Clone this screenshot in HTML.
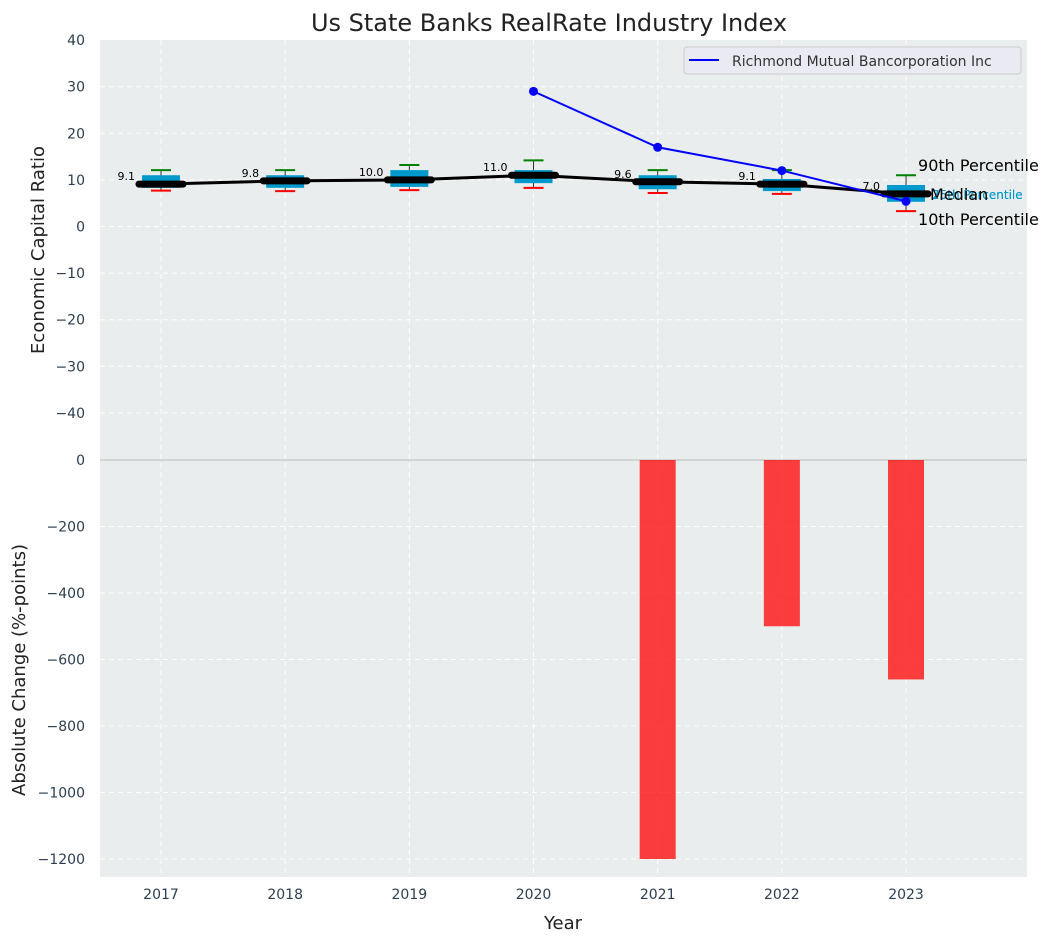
<!DOCTYPE html>
<html><head><meta charset="utf-8"><style>
body{margin:0;background:#fff;font-family:"DejaVu Sans","Liberation Sans",sans-serif;}
svg text{font-family:"DejaVu Sans","Liberation Sans",sans-serif;}
</style></head><body>
<svg id="c" width="1053" height="942" xmlns="http://www.w3.org/2000/svg">
<text x="549" y="31" font-size="24" text-anchor="middle" fill="#222">Us State Banks RealRate Industry Index</text>
<rect x="100" y="40" width="927" height="420" fill="#eaeded"/>
<rect x="100" y="460" width="927" height="417" fill="#eaeded"/>
<g id="grid"></g><g id="marks"></g><g id="labels"></g>
<text transform="translate(44,250) rotate(-90)" font-size="18" text-anchor="middle" fill="#222">Economic Capital Ratio</text>
<text transform="translate(25,670) rotate(-90)" font-size="18" text-anchor="middle" fill="#222">Absolute Change (%-points)</text>
<text x="563" y="929" font-size="18" text-anchor="middle" fill="#222">Year</text>
<g>
<rect x="684" y="47" width="337" height="27" rx="3" fill="#eaeaf2" stroke="#ccc"/>
<line x1="689" y1="60" x2="719" y2="60" stroke="#0000ff" stroke-width="2"/>
<text x="732" y="66" font-size="14" fill="#333">Richmond Mutual Bancorporation Inc</text>
</g>
</svg>
<script>
const years=[2017,2018,2019,2020,2021,2022,2023];
const p90=[12.1,12.1,13.2,14.2,12.1,12.1,11.0];
const q3=[11.0,11.0,12.1,12.1,11.0,10.2,8.9];
const q1=[8.3,8.3,8.5,9.3,8.0,7.6,5.3];
const p10=[7.7,7.6,7.8,8.3,7.2,7.0,3.3];
const medians=[9.1,9.8,10.0,11.0,9.6,9.1,7.0];
const companyYears=[2020,2021,2022,2023];
const companyValues=[29,17,12,5.4];
const changeYears=[2021,2022,2023];
const changeValues=[-1200,-500,-660];
const topTicks=[40,30,20,10,0,-10,-20,-30,-40];
const bottomTicks=[0,-200,-400,-600,-800,-1000,-1200];

const NS="http://www.w3.org/2000/svg";
const xS=y=>161+(y-2017)*124.17;
const yT=v=>226.5-v*4.66;
const yB=v=>460-v*0.3325;
function mk(tag,attrs,parent,text){const e=document.createElementNS(NS,tag);for(const k in attrs)e.setAttribute(k,attrs[k]);if(text!==undefined)e.textContent=text;document.getElementById(parent).appendChild(e);return e;}

topTicks.forEach(t=>{
 if(t!==40){const g=mk('line',{x1:100,x2:1027,y1:yT(t),y2:yT(t),stroke:'#fff','stroke-dasharray':'5,4','stroke-width':1},'grid');
 
 }
 const l=mk('text',{x:85,y:yT(t)+5,'font-size':14,'text-anchor':'end',fill:'#2c3e50'},'labels',String(t).replace('-','\u2212'));
 
 
});
bottomTicks.forEach(t=>{
 if(t!==0){const g=mk('line',{x1:100,x2:1027,y1:yB(t),y2:yB(t),stroke:'#fff','stroke-dasharray':'5,4','stroke-width':1},'grid');
 
 }
 const l=mk('text',{x:85,y:yB(t)+5,'font-size':14,'text-anchor':'end',fill:'#2c3e50'},'labels',String(t).replace('-','\u2212'));
 
 
});
years.forEach(y=>{
 const g=mk('line',{x1:xS(y),x2:xS(y),y1:40,y2:877,stroke:'#fff','stroke-dasharray':'5,4','stroke-width':1},'grid');
 
 
 const l=mk('text',{x:xS(y),y:899,'font-size':14,'text-anchor':'middle',fill:'#2c3e50'},'labels',y);
 
 
});
const zl=mk('line',{x1:100,x2:1027,y1:460,y2:460,stroke:'#bbb','stroke-width':1},'grid');


changeYears.forEach((y,i)=>{
 const v=changeValues[i];
 const b=mk('rect',{x:xS(y)-18,y:yB(0),width:36,height:yB(v)-yB(0),fill:'#ff0000','fill-opacity':0.75},'marks');
 
 
});
years.forEach((y,i)=>{
 const x=xS(y);
 const w=mk('line',{x1:x,x2:x,y1:yT(p90[i]),y2:yT(p10[i]),stroke:'#333','stroke-width':1},'marks');
 
 
 const b=mk('rect',{x:x-19,y:yT(q3[i]),width:38,height:yT(q1[i])-yT(q3[i]),fill:'#0099cc'},'marks');
 
 
 const t=mk('line',{x1:x-10,x2:x+10,y1:yT(p90[i]),y2:yT(p90[i]),stroke:'#008000','stroke-width':2},'marks');
 
 
 const bo=mk('line',{x1:x-10,x2:x+10,y1:yT(p10[i]),y2:yT(p10[i]),stroke:'#ff0000','stroke-width':2},'marks');
 
 
});
const mp=years.map((y,i)=>xS(y)+','+yT(medians[i])).join(' ');
const ml=mk('polyline',{points:mp,fill:'none',stroke:'#000','stroke-width':3},'marks');


years.forEach((y,i)=>{
 const x=xS(y);
 const s=mk('line',{x1:x-22,x2:x+22,y1:yT(medians[i]),y2:yT(medians[i]),stroke:'#000','stroke-width':7,'stroke-linecap':'round'},'marks');
 
 
 const l=mk('text',{x:x-26,y:yT(medians[i])-4,'font-size':11,'text-anchor':'end',fill:'#000'},'labels',medians[i].toFixed(1));
 
 
});
const cp=companyYears.map((y,i)=>xS(y)+','+yT(companyValues[i])).join(' ');
const cl=mk('polyline',{points:cp,fill:'none',stroke:'#0000ff','stroke-width':2},'marks');


companyYears.forEach((y,i)=>{
 const c=mk('circle',{cx:xS(y),cy:yT(companyValues[i]),r:4.5,fill:'#0000ff'},'marks');
 
 
});
const last=years.length-1, lx=xS(years[last]);
const a1=mk('text',{x:lx+12,y:yT(p90[last])-4,'font-size':16,fill:'#000'},'labels','90th Percentile');


const a2=mk('text',{x:lx+26,y:yT(medians[last])+5,'font-size':12,fill:'#0099cc'},'labels','75th Percentile');


const a3=mk('text',{x:lx+26,y:yT(medians[last])+5,'font-size':12,fill:'#0099cc'},'labels','25th Percentile');


const a4=mk('text',{x:lx+24,y:yT(medians[last])+6,'font-size':16,fill:'#000'},'labels','Median');


const a5=mk('text',{x:lx+12,y:yT(p10[last])+14,'font-size':16,fill:'#000'},'labels','10th Percentile');


</script>
</body></html>
